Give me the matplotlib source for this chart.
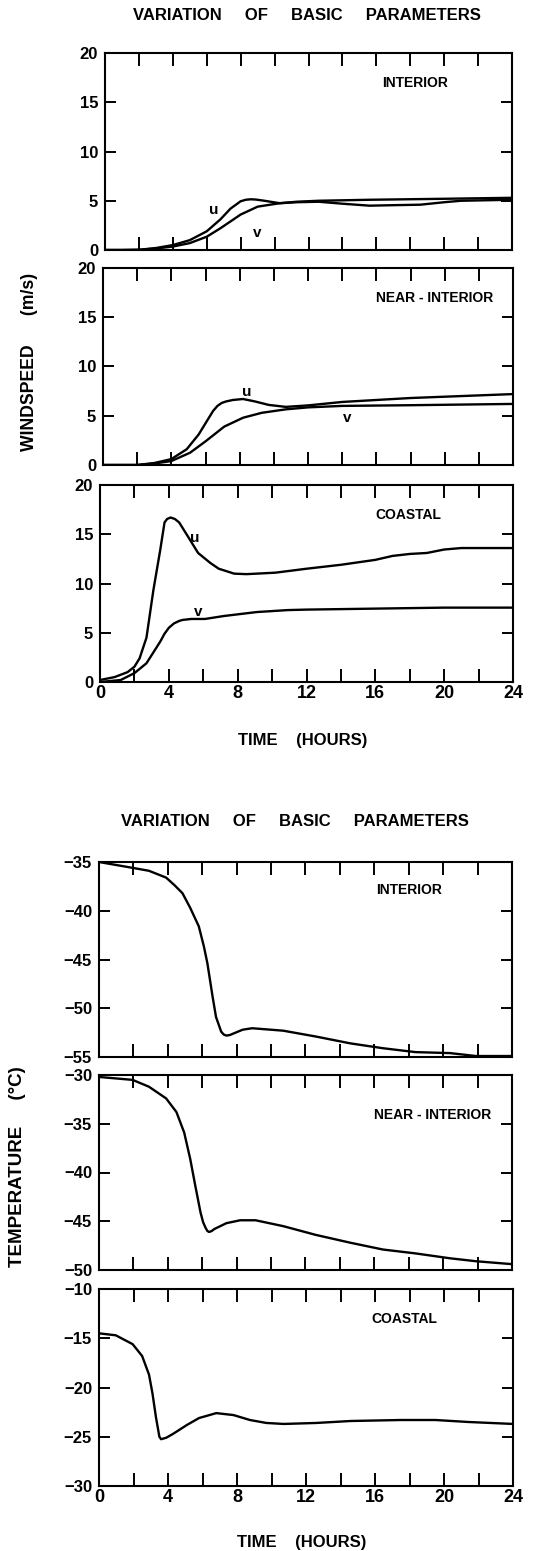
import matplotlib
matplotlib.use("Agg")
import matplotlib.pyplot as plt

plt.rcParams['font.family'] = ['Liberation Sans', 'DejaVu Sans']
plt.rcParams['font.weight'] = 'bold'

# ---- windspeed (m/s) ----
t_int_u = [0, 1, 2, 3, 4, 5, 6, 6.8, 7.4, 8, 8.3, 8.6, 8.9, 9.4, 10.3, 11.3, 12.6, 14, 15.6, 17, 18.6, 20, 21, 22.5, 24]
int_u = [0, 0, 0.02, 0.2, 0.5, 1.0, 1.9, 3.1, 4.2, 4.95, 5.1, 5.15, 5.12, 5.0, 4.75, 4.85, 4.9, 4.7, 4.5, 4.55, 4.6, 4.85, 5.0, 5.05, 5.1]
t_int_v = [0, 1, 2, 3, 4, 5, 6, 6.8, 8, 9, 10.3, 11.3, 12.6, 15.6, 20, 24]
int_v = [0, 0, 0.02, 0.15, 0.35, 0.7, 1.35, 2.2, 3.6, 4.4, 4.75, 4.9, 5.0, 5.1, 5.2, 5.3]

t_near_u = [0, 1, 2, 3, 4, 4.9, 5.6, 6.2, 6.45, 6.7, 6.95, 7.2, 7.6, 8.2, 8.9, 9.7, 10.7, 12, 14, 18, 24]
near_u = [0, 0, 0, 0.2, 0.6, 1.6, 3.1, 4.8, 5.5, 6.0, 6.3, 6.45, 6.6, 6.7, 6.45, 6.1, 5.9, 6.05, 6.4, 6.8, 7.2]
t_near_v = [0, 1, 2, 3, 4, 5.1, 6, 7.1, 8.2, 9.3, 10.7, 12, 14, 18, 24]
near_v = [0, 0, 0, 0.15, 0.4, 1.25, 2.4, 3.9, 4.8, 5.3, 5.65, 5.85, 6.0, 6.07, 6.2]

t_coast_u = [0, 0.85, 1.6, 2, 2.3, 2.7, 3.1, 3.5, 3.75, 3.9, 4.1, 4.35, 4.6, 5.1, 5.7, 6.4, 6.9, 7.8, 8.5, 9.1, 10.2, 12, 14, 16, 17, 18, 19, 20, 21, 24]
coast_u = [0.2, 0.5, 1.0, 1.55, 2.4, 4.5, 9.3, 13.4, 16.2, 16.55, 16.7, 16.55, 16.2, 14.8, 13.1, 12.1, 11.5, 11.0, 10.95, 11.0, 11.1, 11.5, 11.9, 12.4, 12.8, 13.0, 13.1, 13.45, 13.6, 13.6]
t_coast_v = [0, 1.2, 2, 2.7, 3.5, 3.75, 4.0, 4.3, 4.6, 4.8, 5.3, 6.1, 7.2, 9.1, 10.9, 12, 16, 20, 24]
coast_v = [0, 0.2, 0.9, 1.9, 4.1, 4.9, 5.5, 5.95, 6.2, 6.3, 6.4, 6.4, 6.7, 7.1, 7.3, 7.35, 7.45, 7.55, 7.55]

# ---- temperature (deg C) ----
t_int_T = [0, 1.95, 2.9, 3.9, 4.4, 4.85, 5.3, 5.8, 6.1, 6.3, 6.6, 6.8, 7.1, 7.25, 7.4, 7.6, 7.8, 8.35, 8.9, 10.7, 12.6, 14.6, 16.5, 18.4, 20.4, 21.9, 24]
int_T = [-35.0, -35.6, -35.9, -36.6, -37.4, -38.2, -39.7, -41.6, -43.7, -45.4, -48.8, -50.9, -52.4, -52.7, -52.8, -52.75, -52.6, -52.2, -52.05, -52.3, -52.9, -53.6, -54.1, -54.5, -54.6, -54.9, -54.9]

t_near_T = [0, 1.95, 2.9, 3.9, 4.5, 4.95, 5.3, 5.6, 5.9, 6.05, 6.2, 6.3, 6.4, 6.55, 6.7, 7.4, 8.2, 9.1, 10.7, 12.6, 14.6, 16.5, 18.4, 20.4, 21.9, 24]
near_T = [-30.2, -30.5, -31.2, -32.4, -33.8, -35.9, -38.6, -41.4, -44.1, -45.1, -45.7, -46.0, -46.1, -46.0, -45.8, -45.2, -44.9, -44.9, -45.5, -46.4, -47.2, -47.9, -48.3, -48.8, -49.1, -49.4]

t_coast_T = [0, 0.97, 1.95, 2.5, 2.9, 3.1, 3.3, 3.5, 3.6, 3.7, 3.9, 4.3, 5.1, 5.8, 6.8, 7.8, 8.75, 9.7, 10.7, 12.6, 14.6, 17.5, 19.5, 21.4, 24]
coast_T = [-14.5, -14.7, -15.6, -16.8, -18.7, -20.6, -23.0, -25.0, -25.25, -25.2, -25.1, -24.7, -23.8, -23.1, -22.6, -22.8, -23.3, -23.6, -23.7, -23.6, -23.4, -23.3, -23.3, -23.5, -23.7]

hour_ticks = list(range(0, 25, 2))

W, H = 543, 1551
fig = plt.figure(figsize=(W / 100, H / 100), dpi=100)


def px_axes(left, top, right, bottom):
    return fig.add_axes([left / W, 1 - bottom / H, (right - left) / W, (bottom - top) / H])


def style(ax, ylim, ystep, show_x):
    ax.set_xlim(0, 24)
    ax.set_ylim(*ylim)
    ax.set_xticks(hour_ticks)
    lo, hi = ylim
    yt = list(range(int(lo), int(hi) + 1, ystep))
    ax.set_yticks(yt)
    ax.set_yticklabels([str(v).replace('-', '\u2212') for v in yt])
    if show_x:
        ax.set_xticklabels([str(h) if h % 4 == 0 else '' for h in hour_ticks])
    else:
        ax.set_xticklabels([])
    ax.tick_params(axis='x', direction='in', length=9.5, width=1.4, top=True,
                   labelsize=13, pad=2)
    ax.tick_params(axis='y', direction='in', length=8, width=1.4, right=True,
                   labelsize=12, pad=5)
    for s in ax.spines.values():
        s.set_linewidth(1.5)


def curve(ax, x, y):
    ax.plot(x, y, color='black', lw=1.7, solid_joinstyle='round', solid_capstyle='round')


# windspeed panels
ax1 = px_axes(105, 53, 512, 250)
curve(ax1, t_int_u, int_u)
curve(ax1, t_int_v, int_v)
style(ax1, (0, 20), 5, False)
ax1.text(18.3, 17.0, 'INTERIOR', ha='center', va='center', fontsize=10)
ax1.text(6.4, 4.1, 'u', ha='center', va='center', fontsize=11)
ax1.text(9.0, 1.7, 'v', ha='center', va='center', fontsize=11)

ax2 = px_axes(103, 268, 513, 465)
curve(ax2, t_near_u, near_u)
curve(ax2, t_near_v, near_v)
style(ax2, (0, 20), 5, False)
ax2.text(19.4, 17.0, 'NEAR - INTERIOR', ha='center', va='center', fontsize=10)
ax2.text(8.4, 7.4, 'u', ha='center', va='center', fontsize=11)
ax2.text(14.3, 4.8, 'v', ha='center', va='center', fontsize=11)

ax3 = px_axes(100, 485, 513, 682)
curve(ax3, t_coast_u, coast_u)
curve(ax3, t_coast_v, coast_v)
style(ax3, (0, 20), 5, True)
ax3.text(17.9, 17.0, 'COASTAL', ha='center', va='center', fontsize=10)
ax3.text(5.5, 14.6, 'u', ha='center', va='center', fontsize=11)
ax3.text(5.7, 7.1, 'v', ha='center', va='center', fontsize=11)

fig.text(307 / W, 1 - 15 / H, 'VARIATION     OF     BASIC     PARAMETERS',
         ha='center', va='center', fontsize=12)
fig.text(30 / W, 1 - 362 / H, 'WINDSPEED      (m/s)', rotation=90,
         ha='center', va='center', fontsize=12.7)
fig.text(303 / W, 1 - 740 / H, 'TIME    (HOURS)', ha='center', va='center', fontsize=12)

# temperature panels
ax4 = px_axes(99, 862, 512, 1057)
curve(ax4, t_int_T, int_T)
style(ax4, (-55, -35), 5, False)
ax4.text(18.0, -37.9, 'INTERIOR', ha='center', va='center', fontsize=10)

ax5 = px_axes(99, 1075, 512, 1270)
curve(ax5, t_near_T, near_T)
style(ax5, (-50, -30), 5, False)
ax5.text(19.4, -34.1, 'NEAR - INTERIOR', ha='center', va='center', fontsize=10)

ax6 = px_axes(99, 1289, 513, 1486)
curve(ax6, t_coast_T, coast_T)
style(ax6, (-30, -10), 5, True)
ax6.text(17.7, -13.0, 'COASTAL', ha='center', va='center', fontsize=10)

fig.text(295 / W, 1 - 822 / H, 'VARIATION     OF     BASIC     PARAMETERS',
         ha='center', va='center', fontsize=12)
fig.text(18 / W, 1 - 1167 / H, 'TEMPERATURE     (\u00b0C)', rotation=90,
         ha='center', va='center', fontsize=13.5)
fig.text(302 / W, 1 - 1543 / H, 'TIME    (HOURS)', ha='center', va='center', fontsize=12)

fig.savefig('out.png', dpi=100)
